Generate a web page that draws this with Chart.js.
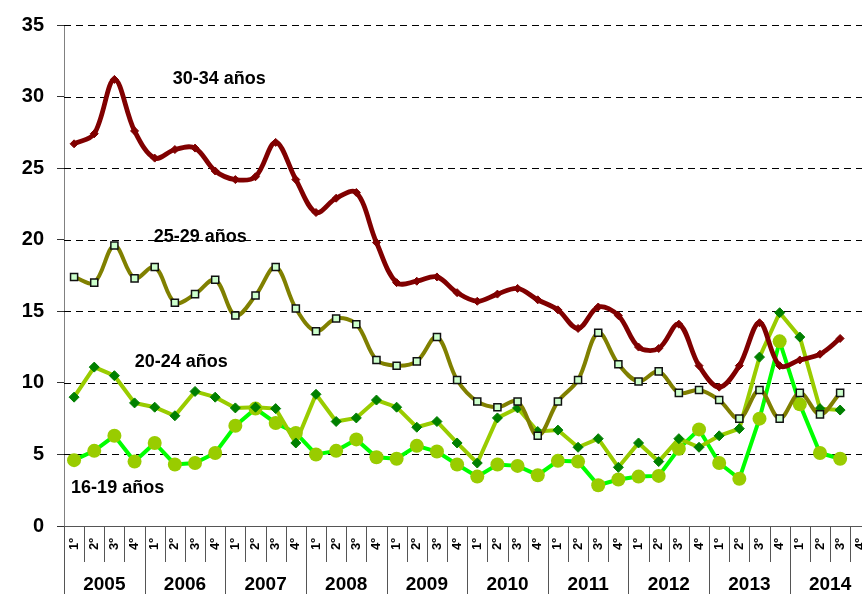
<!DOCTYPE html>
<html><head><meta charset="utf-8">
<script src="https://cdn.jsdelivr.net/npm/chart.js@4.4.0/dist/chart.umd.min.js"></script>
<style>html,body{margin:0;padding:0;background:#fff;overflow:hidden;width:862px;height:594px;}canvas{display:block;}</style>
</head><body>
<canvas id="c" width="888" height="594" style="width:888px;height:594px"></canvas>
<script>
const years = ['2005','2006','2007','2008','2009','2010','2011','2012','2013','2014'];
const quarters = ['1º','2º','3º','4º'];
const yTicks = [0,5,10,15,20,25,30,35];
const seriesNames = ['30-34 años','25-29 años','20-24 años','16-19 años'];

const g30_34 = [26.7,27.4,31.2,27.6,25.7,26.3,26.4,24.8,24.2,24.4,26.8,24.2,21.9,22.9,23.3,19.8,17.0,17.1,17.4,16.3,15.7,16.2,16.6,15.8,15.1,13.8,15.3,14.7,12.5,12.4,14.1,11.2,9.7,11.2,14.2,11.2,11.6,12.0,13.1,null];
const g25_29 = [17.4,17.0,19.6,17.3,18.1,15.6,16.2,17.2,14.7,16.1,18.1,15.2,13.6,14.5,14.1,11.6,11.2,11.5,13.2,10.2,8.7,8.3,8.7,6.3,8.7,10.2,13.5,11.3,10.1,10.8,9.3,9.5,8.8,7.5,9.5,7.5,9.3,7.8,9.3,null];
const g20_24 = [9.0,11.1,10.5,8.6,8.3,7.7,9.4,9.0,8.25,8.3,8.2,5.8,9.2,7.3,7.55,8.8,8.3,6.9,7.3,5.8,4.4,7.55,8.25,6.6,6.7,5.5,6.1,4.1,5.8,4.5,6.1,5.5,6.3,6.8,11.8,14.9,13.2,8.2,8.1,null];
const g16_19 = [4.6,5.25,6.3,4.5,5.8,4.3,4.4,5.1,7.0,8.2,7.2,6.5,5.0,5.25,6.05,4.8,4.7,5.6,5.2,4.3,3.45,4.3,4.2,3.55,4.55,4.5,2.85,3.25,3.45,3.5,5.4,6.75,4.4,3.3,7.5,12.9,8.5,5.1,4.7,null];

const categories = years.flatMap(y => quarters.map(q => y + ' ' + q));
const FONT = '"Liberation Sans", Arial, sans-serif';

// series label anchors in data coordinates (category index, value)
const labelAnchors = [[7.2,31.24],[6.26,20.18],[5.32,11.47],[2.16,2.63]];

const overlay = {
  id: 'overlay',
  beforeDatasetsDraw(chart) {
    const {ctx, chartArea:{left,right}, scales:{y}} = chart;
    ctx.save();
    ctx.strokeStyle = '#000'; ctx.lineWidth = 1; ctx.setLineDash([7,5]);
    yTicks.forEach(v => {
      if (v === 0) return;
      const py = Math.round(y.getPixelForValue(v)) + 0.5;
      ctx.beginPath(); ctx.moveTo(left, py); ctx.lineTo(right, py); ctx.stroke();
    });
    ctx.restore();
  },
  afterDraw(chart) {
    const {ctx, chartArea:{left,right,bottom}, scales:{x,y}} = chart;
    const n = categories.length, w = (right-left)/n;
    ctx.save();
    ctx.strokeStyle = '#555'; ctx.lineWidth = 1;
    for (let j = 0; j <= n; j++) {
      const px = Math.round(left + j*w) + 0.5;
      ctx.beginPath(); ctx.moveTo(px, bottom); ctx.lineTo(px, j % 4 === 0 ? chart.height : bottom + 36); ctx.stroke();
    }
    ctx.fillStyle = '#000'; ctx.textAlign = 'center'; ctx.textBaseline = 'middle';
    ctx.font = 'bold 19px ' + FONT;
    years.forEach((yr,k) => {
      const cx = (x.getPixelForValue(4*k) + x.getPixelForValue(4*k+3)) / 2;
      ctx.fillText(yr, cx, bottom + 59);
    });
    ctx.font = 'bold 18px ' + FONT;
    seriesNames.forEach((s,i) => {
      const a = labelAnchors[i];
      const cx = left + (a[0] + 0.5) * w;
      ctx.fillText(s, cx, y.getPixelForValue(a[1]));
    });
    ctx.restore();
  }
};

new Chart(document.getElementById('c'), {
  type: 'line',
  data: {
    labels: categories,
    datasets: [
      {label: seriesNames[0], data: g30_34, borderColor:'#800000', borderWidth:4.8, tension:0.35,
       pointStyle:'rectRot', pointRadius:4, pointBackgroundColor:'#800000', pointBorderColor:'#800000', pointBorderWidth:1},
      {label: seriesNames[1], data: g25_29, borderColor:'#808000', borderWidth:4, tension:0.35,
       pointStyle:'rect', pointRadius:5, pointBackgroundColor:'#CCFFCC', pointBorderColor:'#111', pointBorderWidth:1.5},
      {label: seriesNames[2], data: g20_24, borderColor:'#99CC00', borderWidth:4, tension:0,
       pointStyle:'rectRot', pointRadius:5, pointBackgroundColor:'#008000', pointBorderColor:'#008000', pointBorderWidth:1},
      {label: seriesNames[3], data: g16_19, borderColor:'#00FF00', borderWidth:4, tension:0,
       pointStyle:'circle', pointRadius:7, pointBackgroundColor:'#99CC00', pointBorderColor:'#99CC00', pointBorderWidth:0}
    ]
  },
  options: {
    responsive: false, animation: false, devicePixelRatio: 1,
    layout: {padding: {top: 24, right: 8, left: 0, bottom: 0}},
    plugins: {legend: {display:false}, tooltip: {enabled:false}, title: {display:false}},
    scales: {
      x: {
        offset: true,
        grid: {display: false, drawTicks: false},
        border: {display: true, color: '#555', width: 1},
        ticks: {autoSkip: false, maxRotation: 90, minRotation: 90, padding: 12, color: '#000',
                font: {family: FONT, weight: 'bold', size: 13},
                callback: (v, i) => quarters[i % 4]},
        afterFit: s => { s.height = 68; }
      },
      y: {
        min: 0, max: 35,
        afterBuildTicks: s => { s.ticks = yTicks.map(v => ({value: v})); },
        grid: {drawOnChartArea: false, drawTicks: true, tickLength: 7, tickColor: '#333'},
        border: {display: true, color: '#808080', width: 1},
        ticks: {padding: 13, color: '#000', font: {family: FONT, weight: 'bold', size: 20}},
        afterFit: s => { s.width = 64; }
      }
    }
  },
  plugins: [overlay]
});
</script>
</body></html>
